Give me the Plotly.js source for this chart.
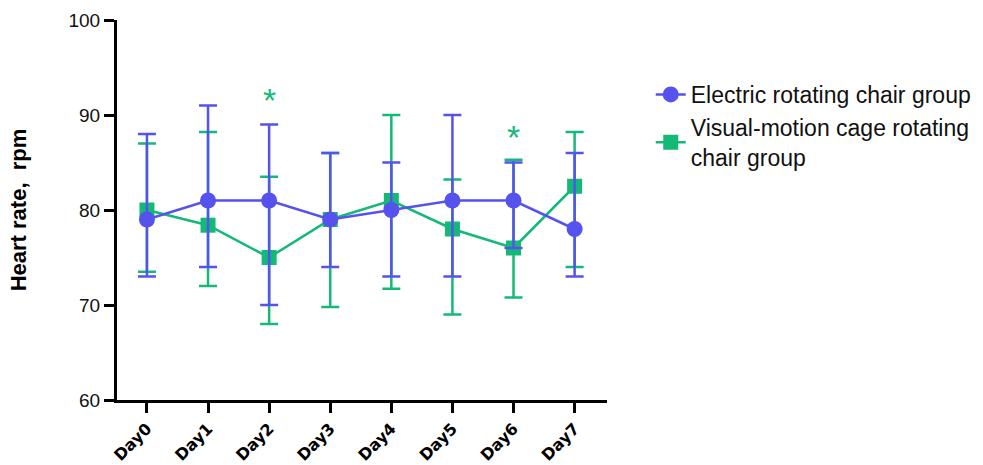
<!DOCTYPE html>
<html>
<head>
<meta charset="utf-8">
<script src="https://cdn.plot.ly/plotly-3.0.1.min.js"></script>
<style>
  html, body { margin: 0; padding: 0; background: #fff; }
  #chart { width: 983px; height: 465px; }
</style>
</head>
<body>
<div id="chart"></div>
<script>
// Heart rate (rpm) per day for the two rotating-chair groups
const days = ["Day0", "Day1", "Day2", "Day3", "Day4", "Day5", "Day6", "Day7"];

const electricMean  = [79, 81, 81, 79, 80, 81, 81, 78];
const electricUpper = [88, 91, 89, 86, 85, 90, 85, 86];
const electricLower = [73, 74, 70, 74, 73, 73, 76, 73];

const visualMean  = [80, 78.4, 75, 79, 81, 78, 76, 82.5];
const visualUpper = [87, 88.2, 83.5, 86, 90, 83.2, 85.3, 88.2];
const visualLower = [73.5, 72, 68, 69.8, 71.7, 69, 70.8, 74];

// significance markers between groups
const starDays = ["Day2", "Day6"];
const starLevel = [92.3, 88.4];

const blue = "#5652EE";
const green = "#14B978";

function errs(mean, upper, lower) {
  return {
    plus: upper.map((u, i) => u - mean[i]),
    minus: mean.map((m, i) => m - lower[i])
  };
}
const eE = errs(electricMean, electricUpper, electricLower);
const eV = errs(visualMean, visualUpper, visualLower);

const traceVisual = {
  x: days, y: visualMean, type: "scatter", mode: "lines+markers",
  name: "Visual-motion cage rotating<br>chair group",
  line: { color: green, width: 2.5 },
  marker: { symbol: "square", size: 15, color: green },
  error_y: { type: "data", symmetric: false, array: eV.plus, arrayminus: eV.minus,
             color: green, thickness: 2.5, width: 9 },
  legendrank: 2
};
const traceElectric = {
  x: days, y: electricMean, type: "scatter", mode: "lines+markers",
  name: "Electric rotating chair group",
  line: { color: blue, width: 2.5 },
  marker: { symbol: "circle", size: 16, color: blue },
  error_y: { type: "data", symmetric: false, array: eE.plus, arrayminus: eE.minus,
             color: blue, thickness: 2.5, width: 9 },
  legendrank: 1
};

// asterisk glyph sits high in its line box, so the anchor is dropped a little
const stars = starDays.map((d, i) => ({
  x: d, y: starLevel[i], xref: "x", yref: "y", text: "*", showarrow: false,
  font: { family: "Liberation Sans, Arial, sans-serif", size: 34, color: green },
  yanchor: "middle", yshift: -7
}));

const layout = {
  width: 983, height: 465,
  margin: { l: 117, r: 376, t: 20, b: 65, autoexpand: false },
  paper_bgcolor: "#fff", plot_bgcolor: "#fff",
  showlegend: true,
  legend: {
    xref: "container", yref: "container",
    x: 0.662, y: 0.843, xanchor: "left", yanchor: "top",
    font: { family: "Liberation Sans, Arial, sans-serif", size: 23, color: "#111" },
    itemwidth: 30, tracegroupgap: 5, bgcolor: "rgba(0,0,0,0)"
  },
  xaxis: {
    type: "category", range: [-0.49, 7.53],
    showline: true, linecolor: "#000", linewidth: 3,
    ticks: "outside", ticklen: 10, tickwidth: 3, tickcolor: "#000",
    tickangle: -45, showgrid: false, zeroline: false,
    tickfont: { family: "DejaVu Sans, sans-serif", size: 16, color: "#000", weight: "bold" }
  },
  yaxis: {
    range: [60, 100], tickvals: [60, 70, 80, 90, 100],
    showline: true, linecolor: "#000", linewidth: 3,
    ticks: "outside", ticklen: 10, tickwidth: 3, tickcolor: "#000",
    showgrid: false, zeroline: false,
    tickfont: { family: "Liberation Sans, Arial, sans-serif", size: 19, color: "#111" },
    title: { text: "Heart rate,  rpm", standoff: 36,
             font: { family: "Liberation Sans, Arial, sans-serif", size: 22, color: "#000", weight: "bold" } }
  },
  annotations: stars
};

Plotly.newPlot("chart", [traceVisual, traceElectric], layout, { displayModeBar: false, staticPlot: true });
</script>
</body>
</html>
